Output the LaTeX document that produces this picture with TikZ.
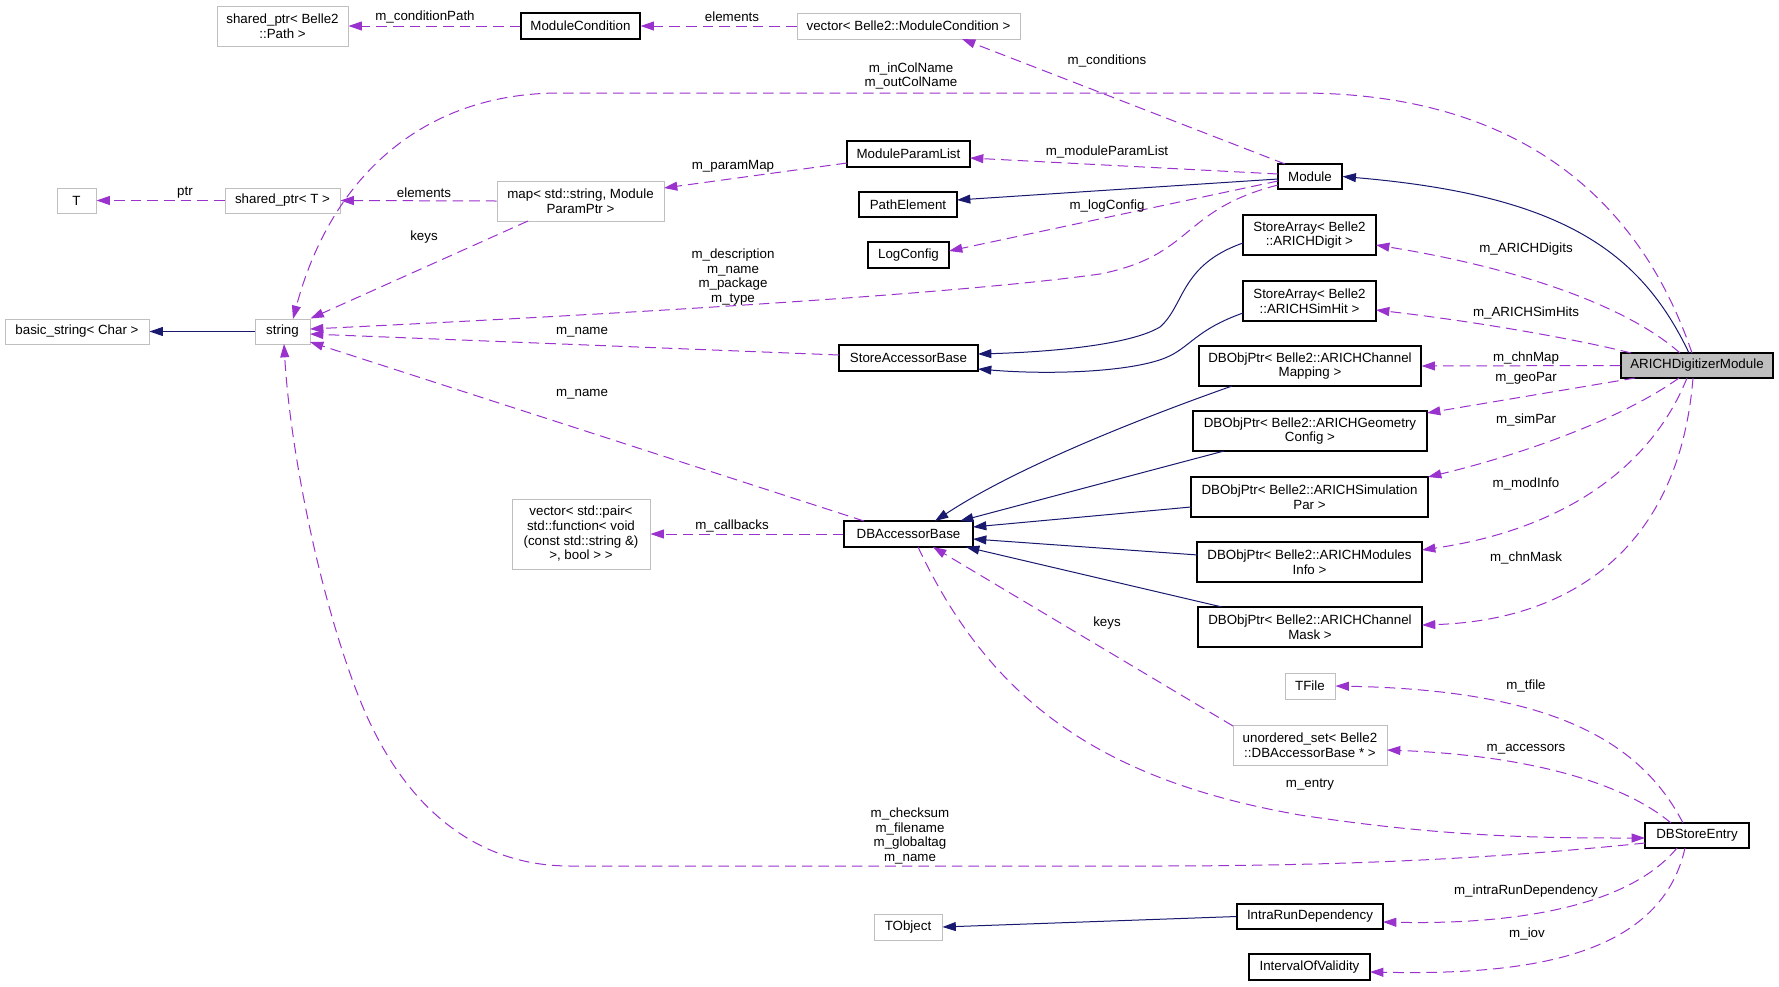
\documentclass[tikz,border=0pt]{standalone}
\usepackage{fontspec}
\setmainfont{Liberation Sans}
\usetikzlibrary{arrows.meta,calc}
\definecolor{inh}{HTML}{191970}
\definecolor{usg}{HTML}{9A32CD}
\definecolor{grey75}{HTML}{BFBFBF}
\tikzset{
  cls/.style={rectangle, inner sep=0pt, align=center, font=\fontsize{10}{11}\selectfont, line width=0.9pt, draw=black, fill=white},
  undoc/.style={cls, draw=grey75, line width=0.75pt},
  focus/.style={cls, fill=grey75},
  sz/.style 2 args={minimum width=#1, minimum height=#2},
  inherit/.style={draw=inh, line width=0.75pt, -{Triangle[length=10pt,width=6.7pt]}},
  uses/.style={draw=usg, line width=0.75pt, dash pattern=on 8pt off 4.5pt, -{Triangle[length=10pt,width=6.7pt]}},
  lbl/.style={inner sep=0pt, align=center, font=\fontsize{10}{11}\selectfont},
}
\begin{document}
\begin{tikzpicture}[x=0.75pt,y=-0.75pt]
\fill[white] (0,0) rectangle (1779,986);
\useasboundingbox (0,0) rectangle (1779,986);

% ---------- nodes ----------
\node[undoc, sz={98.25pt}{30pt}]   (pathp)   at (282.5,26)  {shared\_ptr< Belle2\\::Path >};
\node[cls,   sz={89.25pt}{19.5pt}] (modcond) at (580.5,26)  {ModuleCondition};
\node[undoc, sz={167.25pt}{19.5pt}] (vecmc)  at (908.5,26)  {vector< Belle2::ModuleCondition >};
\node[undoc, sz={29.25pt}{18.75pt}] (T)      at (76.5,200.5) {T};
\node[undoc, sz={86.25pt}{18.75pt}] (sptrT)  at (282.5,200.5) {shared\_ptr< T >};
\node[undoc, sz={125.25pt}{30pt}]  (map)     at (580.5,201) {map< std::string, Module\\ParamPtr >};
\node[cls,   sz={92.25pt}{19.5pt}] (mpl)     at (908.5,154) {ModuleParamList};
\node[cls,   sz={73.5pt}{18.75pt}] (pathel)  at (908,204.5) {PathElement};
\node[cls,   sz={60.75pt}{19.5pt}] (logcfg)  at (908.5,255) {LogConfig};
\node[cls,   sz={48pt}{18.75pt}]   (module)  at (1310,176.5) {Module};
\node[cls,   sz={99.75pt}{30pt}]   (sadigit) at (1309.5,235) {StoreArray< Belle2\\::ARICHDigit >};
\node[cls,   sz={99.75pt}{30pt}]   (sasim)   at (1309.5,301) {StoreArray< Belle2\\::ARICHSimHit >};
\node[undoc, sz={108pt}{18.75pt}]  (bstr)    at (77,331.5)  {basic\_string< Char >};
\node[undoc, sz={41.25pt}{18.75pt}] (string) at (282.5,331.5) {string};
\node[cls,   sz={104.25pt}{19.5pt}] (sab)    at (908.5,358) {StoreAccessorBase};
\node[cls,   sz={166.5pt}{30pt}]   (chmap)   at (1310,366)  {DBObjPtr< Belle2::ARICHChannel\\Mapping >};
\node[cls, focus, sz={114pt}{18.75pt}] (adm) at (1697,365.5) {ARICHDigitizerModule};
\node[cls,   sz={175.5pt}{30pt}]   (geo)     at (1310,431)  {DBObjPtr< Belle2::ARICHGeometry\\Config >};
\node[cls,   sz={177.75pt}{30pt}]  (sim)     at (1309.5,497) {DBObjPtr< Belle2::ARICHSimulation\\Par >};
\node[undoc, sz={103.5pt}{52.5pt}] (vecpair) at (581,534)   {vector< std::pair<\\std::function< void\\(const std::string \&)\\>, bool > >};
\node[cls,   sz={96.75pt}{19.5pt}] (dbab)    at (908.5,534) {DBAccessorBase};
\node[cls,   sz={168.75pt}{30pt}]  (modinfo) at (1309.5,562) {DBObjPtr< Belle2::ARICHModules\\Info >};
\node[cls,   sz={168pt}{30pt}]     (chmask)  at (1310,627)  {DBObjPtr< Belle2::ARICHChannel\\Mask >};
\node[undoc, sz={37.5pt}{19.5pt}]  (tfile)   at (1310,686)  {TFile};
\node[undoc, sz={115.5pt}{30pt}]   (uset)    at (1310,745)  {unordered\_set< Belle2\\::DBAccessorBase * >};
\node[cls,   sz={78pt}{18.75pt}]   (dbse)    at (1697,835.5) {DBStoreEntry};
\node[cls,   sz={109.5pt}{18.75pt}] (ird)    at (1310,916.5) {IntraRunDependency};
\node[undoc, sz={51pt}{19.5pt}]    (tobj)    at (908,927)   {TObject};
\node[cls,   sz={90.75pt}{19.5pt}] (iov)     at (1309.5,967) {IntervalOfValidity};

% ---------- connectors ----------
\draw[uses] (modcond.west) -- (pathp.east);
\draw[uses] (vecmc.west) -- (modcond.east);
\draw[uses] ($(module.center)+(-25,-12.5)$) -- ($(vecmc.center)+(53.5,13)$);
\draw[uses] ($(adm.center)+(-5,-12.5)$) .. controls (1640,200) and (1520,93) .. (1300,93) -- (560,93) .. controls (420,93) and (330,180) .. ($(string.center)+(10.5,-12.5)$);
\draw[uses] ($(module.center)+(-32,-2.5)$) -- ($(mpl.center)+(61.5,4)$);
\draw[inherit] ($(module.center)+(-32,2.5)$) -- ($(pathel.center)+(49,-4.5)$);
\draw[uses] ($(module.center)+(-32,4.5)$) -- ($(logcfg.center)+(40.5,-4)$);
\draw[uses] ($(module.center)+(-32,8.5)$) .. controls (1180,210) and (1195,255) .. (1100,274) .. controls (950,295) and (600,315) .. ($(string.center)+(27.5,-2.5)$);
\draw[inherit] ($(adm.center)+(-8,-12.5)$) .. controls (1640,250) and (1560,195) .. (module.east);
\draw[inherit] ($(sadigit.center)+(-66.5,8)$) .. controls (1180,265) and (1185,305) .. (1160,327) .. controls (1130,345) and (1050,352) .. ($(sab.center)+(69.5,-4)$);
\draw[inherit] ($(sasim.center)+(-66.5,12)$) .. controls (1195,330) and (1190,348) .. (1165,358) .. controls (1130,372) and (1050,375) .. ($(sab.center)+(69.5,11)$);
\draw[uses] ($(sab.center)+(-69.5,-3)$) -- ($(string.center)+(27.5,2.5)$);
\draw[uses] ($(dbab.center)+(-44.5,-13)$) -- ($(string.center)+(27.5,10.5)$);
\draw[inherit] ($(chmap.center)+(-78,20)$) .. controls (1150,415) and (1020,465) .. ($(dbab.center)+(26.5,-13)$);
\draw[inherit] ($(geo.center)+(-86,20)$) -- ($(dbab.center)+(51.5,-13)$);
\draw[inherit] ($(sim.center)+(-118.5,10)$) -- ($(dbab.center)+(64.5,-7)$);
\draw[inherit] ($(modinfo.center)+(-111.5,-7)$) -- ($(dbab.center)+(64.5,5)$);
\draw[inherit] ($(chmask.center)+(-88,-20)$) -- ($(dbab.center)+(57.5,13)$);
\draw[uses] (dbab.west) -- (vecpair.east);
\draw[uses] ($(uset.center)+(-77,-19)$) -- ($(dbab.center)+(24.5,13)$);
\draw[uses] ($(dbab.center)+(9.5,13)$) .. controls (990,700) and (1100,780) .. (1300,815) .. controls (1450,838) and (1550,838) .. ($(dbse.center)+(-52,2.5)$);
\draw[uses] ($(dbse.center)+(-52,7.5)$) .. controls (1500,858) and (1350,866) .. (1150,866) -- (570,866) .. controls (470,866) and (400,800) .. (360,700) .. controls (320,600) and (290,450) .. ($(string.center)+(1.5,12.5)$);
\draw[uses] ($(dbse.center)+(-14,-12.5)$) .. controls (1640,740) and (1550,690) .. (tfile.east);
\draw[uses] ($(dbse.center)+(-26,-12.5)$) .. controls (1620,780) and (1520,755) .. ($(uset.center)+(77,5)$);
\draw[uses] ($(dbse.center)+(-20,12.5)$) .. controls (1630,905) and (1520,925) .. ($(ird.center)+(73,5.5)$);
\draw[uses] ($(dbse.center)+(-12,12.5)$) .. controls (1660,960) and (1520,975) .. ($(iov.center)+(60.5,5)$);
\draw[inherit] (ird.west) -- (tobj.east);
\draw[inherit] (string.west) -- (bstr.east);
\draw[uses] ($(map.center)+(-52.5,20)$) -- (string.north east);
\draw[uses] (map.west) -- (sptrT.east);
\draw[uses] (sptrT.west) -- (T.east);
\draw[uses] ($(mpl.center)+(-61.5,9)$) -- ($(map.center)+(83.5,-13)$);
\draw[uses] ($(adm.center)+(-17,-12.5)$) .. controls (1620,300) and (1500,265) .. ($(sadigit.center)+(66.5,10)$);
\draw[uses] ($(adm.center)+(-66,-12.5)$) .. controls (1580,340) and (1480,322) .. ($(sasim.center)+(66.5,9)$);
\draw[uses] (adm.west) -- (chmap.east);
\draw[uses] ($(adm.center)+(-62,12.5)$) -- ($(geo.center)+(117,-18)$);
\draw[uses] ($(adm.center)+(-18,12.5)$) .. controls (1620,420) and (1520,455) .. ($(sim.center)+(118.5,-20)$);
\draw[uses] ($(adm.center)+(-10,12.5)$) .. controls (1650,470) and (1560,530) .. ($(modinfo.center)+(112.5,-12)$);
\draw[uses] ($(adm.center)+(-4,12.5)$) .. controls (1680,540) and (1580,620) .. ($(chmask.center)+(112,-2)$);

% ---------- labels ----------
\node[lbl] (l1)  at (425,17)   {m\_conditionPath};
\node[lbl] (l2)  at (732,17)   {elements};
\node[lbl] (l3)  at (1107,61)  {m\_conditions};
\node[lbl] (l4)  at (911,76)   {m\_inColName\\m\_outColName};
\node[lbl] (l5)  at (1107,152) {m\_moduleParamList};
\node[lbl] (l6)  at (733,166)  {m\_paramMap};
\node[lbl] (l7)  at (424,193)  {elements};
\node[lbl] (l8)  at (185,193)  {ptr};
\node[lbl] (l9)  at (424,237)  {keys};
\node[lbl] (l10) at (1107,206) {m\_logConfig};
\node[lbl] (l11) at (733,277)  {m\_description\\m\_name\\m\_package\\m\_type};
\node[lbl] (l12) at (582,332)  {m\_name};
\node[lbl] (l13) at (582,394)  {m\_name};
\node[lbl] (l14) at (1526,249) {m\_ARICHDigits};
\node[lbl] (l15) at (1526,313) {m\_ARICHSimHits};
\node[lbl] (l16) at (1526,358) {m\_chnMap};
\node[lbl] (l17) at (1526,378) {m\_geoPar};
\node[lbl] (l18) at (1526,420) {m\_simPar};
\node[lbl] (l19) at (1526,484) {m\_modInfo};
\node[lbl] (l20) at (1526,558) {m\_chnMask};
\node[lbl] (l21) at (732,526)  {m\_callbacks};
\node[lbl] (l22) at (1107,623) {keys};
\node[lbl] (l23) at (1526,686) {m\_tfile};
\node[lbl] (l24) at (1526,749) {m\_accessors};
\node[lbl] (l25) at (1310,785) {m\_entry};
\node[lbl] (l26) at (910,836)  {m\_checksum\\m\_filename\\m\_globaltag\\m\_name};
\node[lbl] (l27) at (1526,891) {m\_intraRunDependency};
\node[lbl] (l28) at (1527,934) {m\_iov};
\end{tikzpicture}
\end{document}
